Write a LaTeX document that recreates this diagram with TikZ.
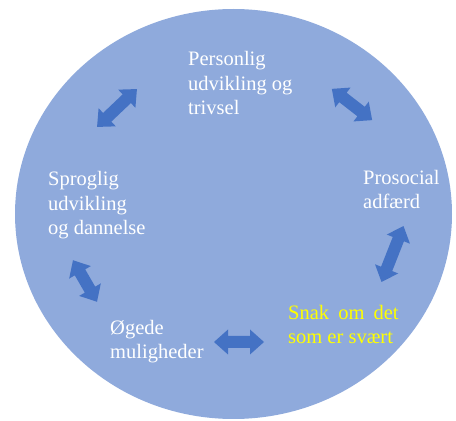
\documentclass[tikz,border=0pt]{standalone}
\usepackage{fontspec}
\setmainfont{Liberation Serif}
\definecolor{circfill}{HTML}{8FAADC}
\definecolor{arrblue}{HTML}{4472C4}
\definecolor{ylw}{HTML}{FFFF00}
\tikzset{
  lbl/.style={anchor=base west, align=left, inner sep=0pt, text=white,
    font=\fontsize{20.5pt}{24.5pt}\selectfont},
  pics/dblarr/.style={code={
    \fill[arrblue] (-#1/2,0) -- (-#1/2+14,12.5) -- (-#1/2+14,6) -- (#1/2-14,6)
      -- (#1/2-14,12.5) -- (#1/2,0) -- (#1/2-14,-12.5) -- (#1/2-14,-6)
      -- (-#1/2+14,-6) -- (-#1/2+14,-12.5) -- cycle;
  }},
}
\begin{document}
\begin{tikzpicture}[x=1pt,y=1pt]
\useasboundingbox (0,0) rectangle (456,421);
\fill[circfill] (233.5,207) ellipse [x radius=218.5, y radius=205];
% labels (base = baseline of last line)
\node[lbl] (pers) at (188,306) {Personlig\\udvikling og\\trivsel};
\node[lbl] (pros) at (363,212) {Prosocial\\adfærd};
\node[lbl] (spro) at (48,186) {Sproglig\\udvikling\\og dannelse};
\node[lbl] (oege) at (110,62) {Øgede\\muligheder};
\node[lbl, text=ylw] (snak) at (288,77) {Snak\hspace{4pt} om\hspace{4pt} det\\som er svært};
% arrows
\pic[rotate=43.5] (a1) at (117,313) {dblarr=55};
\pic[rotate=-37.8] (a2) at (352,316.5) {dblarr=51};
\pic[rotate=68.5] (a3) at (392.5,167) {dblarr=60};
\pic[rotate=-60] (a4) at (85,140) {dblarr=48};
\pic (a5) at (239,79) {dblarr=50};
\end{tikzpicture}
\end{document}
